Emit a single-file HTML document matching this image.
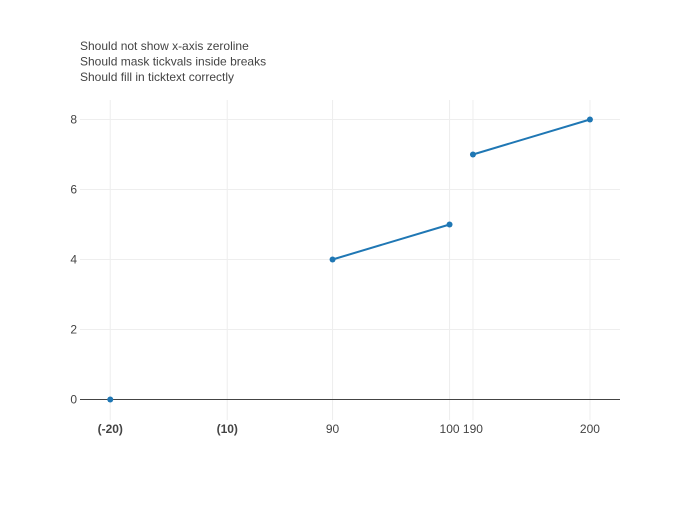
<!DOCTYPE html>
<html><head><meta charset="utf-8"><style>
body{margin:0;background:#fff;font-family:"Liberation Sans",sans-serif}
svg text{font-family:"Liberation Sans",sans-serif;fill:#444}
</style></head><body>
<svg width="700" height="500">
<g id="g"></g>
</svg>
<script>
const xs=[-20,90,100,190,200];
const ys=[0,4,5,7,8];
const xTickVals=[-20,-10,90,100,190,200];
const xTickText=["(-20)","(10)","90","100","190","200"];
const xTickBold=[true,true,false,false,false,false];
const yTicks=[0,2,4,6,8];
const segs=[[-22.5,-1],[90,102],[190,202.65]];
const L=80,R=620,T=100,B=420,ppu=11.7,OFF=1;
function X(v){let p=L+OFF;for(const s of segs){if(v<=s[1]){return p+(Math.max(v,s[0])-s[0])*ppu;}p+=(s[1]-s[0])*ppu;}return p;}
function segOf(v){return segs.findIndex(s=>v>=s[0]&&v<=s[1]);}
const Y=v=>399.5-v*35;
const g=document.getElementById('g');const NS='http://www.w3.org/2000/svg';
function el(t,a,txt){const e=document.createElementNS(NS,t);for(const k in a)e.setAttribute(k,a[k]);if(txt!=null)e.textContent=txt;g.appendChild(e);return e;}
xTickVals.forEach((v,i)=>{const x=X(v);
 const gl=el('line',{x1:x,x2:x,y1:T,y2:B,stroke:'#eee'});
 
 
 const t=el('text',{x:x,y:433,'text-anchor':'middle','font-size':12,'font-weight':xTickBold[i]?'bold':'normal'},xTickText[i]);
 
 });
yTicks.forEach(v=>{const y=Y(v);
 if(v!==0){const gl=el('line',{x1:L,x2:R,y1:y,y2:y,stroke:'#eee'});
 
 }
 const t=el('text',{x:L-3,y:y+4,'text-anchor':'end','font-size':12},v);
 
 });
const z=el('line',{x1:L,x2:R,y1:Y(0),y2:Y(0),stroke:'#444','stroke-width':1});


let d='';for(let i=0;i<xs.length;i++){const cont=i>0&&segOf(xs[i])===segOf(xs[i-1]);d+=(cont?'L':'M')+X(xs[i])+','+Y(ys[i]);}
const ln=el('path',{d:d,fill:'none',stroke:'#1f77b4','stroke-width':2});


xs.forEach((v,i)=>{const c=el('circle',{cx:X(v),cy:Y(ys[i]),r:3,fill:'#1f77b4'});
 
 });
["Should not show x-axis zeroline","Should mask tickvals inside breaks","Should fill in ticktext correctly"].forEach((s,i)=>{
 const t=el('text',{x:80,y:50+i*15.5,'font-size':12},s);
 
 });
</script>
</body></html>
